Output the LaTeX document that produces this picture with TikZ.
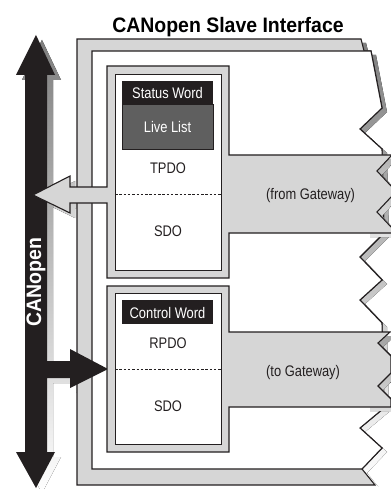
\documentclass[tikz,border=0pt]{standalone}
\usepackage{fontspec}
\setmainfont[FakeStretch=0.84]{Liberation Sans}
\newfontfamily\titlefont[FakeStretch=0.93]{Liberation Sans}
\definecolor{ink}{HTML}{231F20}
\definecolor{bandgray}{HTML}{D6D6D6}
\definecolor{shade}{HTML}{B0B0B0}
\definecolor{livegray}{HTML}{5F5F5F}
\begin{document}
\begin{tikzpicture}[x=1bp,y=-1bp, line join=miter,
  outl/.style={draw=ink, line width=1.1bp},
  lbl/.style={font=\fontsize{15.4}{18}\selectfont, anchor=base, inner sep=0pt, text=ink},
  wlbl/.style={lbl, text=white},
  boldlbl/.style={font={\titlefont\bfseries\fontsize{21}{24}\selectfont}, inner sep=0pt},
  divider/.style={draw=ink, line width=0.8bp, dash pattern=on 2.5bp off 1.8bp},
  framepath/.style={insert path={(77,39) -- (361,39) -- (364,51) -- (371,51) -- (382,108) -- (360,129) -- (382,149) -- (384,233) -- (360,257) -- (382,280) -- (360,300) -- (382,323) -- (384,408) -- (360,428) -- (382,448) -- (362,469) -- (375,485) -- (77,485) -- cycle}},
  pagepath/.style={insert path={(92,51) -- (371,51) -- (382,108) -- (360,129) -- (382,149) -- (384,233) -- (360,257) -- (382,280) -- (360,300) -- (382,323) -- (384,408) -- (360,428) -- (382,448) -- (362,469) -- (92,469) -- cycle}},
  boxonepath/.style={insert path={(107,66) -- (229,66) -- (229,155) -- (392,155) -- (377,171) -- (392,187) -- (392,196) -- (377,212) -- (392,228) -- (392,233) -- (229,233) -- (229,278) -- (107,278) -- (107,203) -- (70,203) -- (70,213) -- (33,195) -- (70,176) -- (70,187) -- (107,187) -- cycle}},
  boxtwopath/.style={insert path={(107,286) -- (229,286) -- (229,332) -- (390,332) -- (378,343) -- (391,356) -- (391,373) -- (378,386) -- (391,399) -- (391,407) -- (229,407) -- (229,452) -- (107,452) -- cycle}},
  busarrowpath/.style={insert path={(36,35) -- (55,75) -- (47,75) -- (47,361) -- (70,361) -- (70,349) -- (108,369) -- (70,388) -- (70,378) -- (47,378) -- (47,452) -- (55,452) -- (36,488) -- (16,452) -- (25,452) -- (25,75) -- (16,75) -- cycle}}
]
\useasboundingbox (0,0) rectangle (390,489);

% shadows
\begin{scope}
  \clip (0,0) rectangle (77,489);
  \fill[shade, shift={(5,5)}] [boxonepath];
\end{scope}
\fill[shade, shift={(6,5)}] [busarrowpath];
\begin{scope}
  \clip (352,0) rectangle (400,486);
  \fill[shade, shift={(5,4)}] [framepath];
\end{scope}

% frame
\path[outl, fill=bandgray] [framepath];
\path[outl, fill=white] [pagepath];

% CANopen bus arrow
\fill[ink] [busarrowpath];

% notch shadows
\begin{scope}
  \clip (370,0) rectangle (400,489);
  \fill[shade, shift={(5,4)}] [boxonepath];
  \fill[shade, shift={(5,4)}] [boxtwopath];
\end{scope}

% boxes with bands
\path[outl, fill=bandgray] [boxonepath];
\path[outl, fill=bandgray] [boxtwopath];

\node[outl, fill=white, minimum width=106bp, minimum height=196bp, inner sep=0pt, anchor=north west] (boxone) at (115,74) {};
\node[outl, fill=white, minimum width=106bp, minimum height=151bp, inner sep=0pt, anchor=north west] (boxtwo) at (115,293) {};

\node[outl, fill=livegray, minimum width=91bp, minimum height=45bp, inner sep=0pt, anchor=north west] (livebox) at (122,104) {};
\node[fill=ink, minimum width=91bp, minimum height=23bp, inner sep=0pt, anchor=north west] (swbox) at (122,81) {};
\node[fill=ink, minimum width=91bp, minimum height=24bp, inner sep=0pt, anchor=north west] (cwbox) at (122,300) {};

\draw[divider] (115,194) -- (221,194);
\draw[divider] (115,369) -- (221,369);

% texts
\node[boldlbl, anchor=base] (title) at (228,33) {CANopen Slave Interface};
\node[boldlbl, text=white, rotate=90] (canlbl) at (36,282) {CANopen};
\node[wlbl] (sw) at (167.5,99) {Status Word};
\node[wlbl] (ll) at (167.5,133) {Live List};
\node[lbl] (tpdo) at (168,174) {TPDO};
\node[lbl] (sdoone) at (168,236) {SDO};
\node[lbl, anchor=base west] (fromgw) at (266,199) {(from Gateway)};
\node[wlbl] (cw) at (167.5,318) {Control Word};
\node[lbl] (rpdo) at (168,348) {RPDO};
\node[lbl, anchor=base west] (togw) at (266,376) {(to Gateway)};
\node[lbl] (sdotwo) at (168,411) {SDO};
\end{tikzpicture}
\end{document}
